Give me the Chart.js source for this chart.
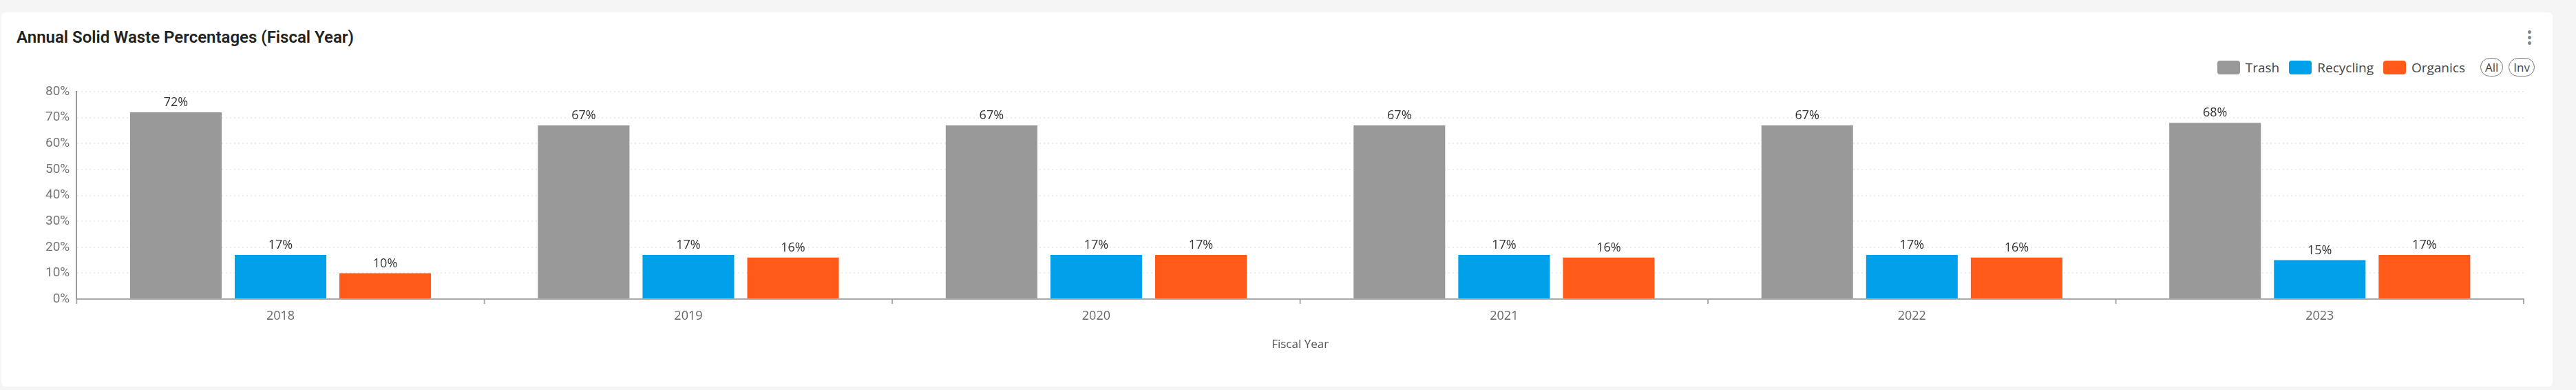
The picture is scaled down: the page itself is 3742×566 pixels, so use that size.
<!DOCTYPE html>
<html><head><meta charset="utf-8">
<script src="https://cdn.jsdelivr.net/npm/chart.js@4"></script>
<style>
html,body{margin:0;padding:0;background:#f5f5f5;width:3742px;height:566px;overflow:hidden;font-family:Roboto,"Noto Sans",sans-serif}
#card{position:absolute;left:2px;top:18px;width:3706px;height:543px;background:#fff;border-radius:6px}
#title{position:absolute;left:24px;top:40px;font:600 24px Roboto,sans-serif;color:#222}
#legend{position:absolute;top:84px;right:60px;display:flex;align-items:center;font:19px "Open Sans",sans-serif;color:#444}
.sw{width:33px;height:20px;border-radius:4px;margin-right:8px}
.it{display:flex;align-items:center;margin-right:14px}
.pill{border:1.5px solid #777;border-radius:14px;padding:1px 6px;font-size:17px;margin-left:8px}
#dots{position:absolute;right:64px;top:44px;width:6px}
#dots div{width:5px;height:5px;border-radius:50%;background:#7f8a96;margin-bottom:3px}
canvas{position:absolute;left:0;top:0}
</style></head><body>
<div id="card"></div>
<div id="title">Annual Solid Waste Percentages (Fiscal Year)</div>
<div id="dots"><div></div><div></div><div></div></div>
<div id="legend">
<div class="it"><div class="sw" style="background:#999"></div>Trash</div>
<div class="it"><div class="sw" style="background:#00a0ea"></div>Recycling</div>
<div class="it"><div class="sw" style="background:#ff5a19"></div>Organics</div>
<span class="pill">All</span><span class="pill">Inv</span>
</div>
<canvas id="c" width="3742" height="566"></canvas>
<script>
const categories=["2018","2019","2020","2021","2022","2023"];
const trash=[72,67,67,67,67,68];
const recycling=[17,17,17,17,17,15];
const organics=[10,16,17,16,16,17];
const yTicks=[0,10,20,30,40,50,60,70,80];
const labelPlugin={id:'lbl',afterDatasetsDraw(ch){const ctx=ch.ctx;ctx.save();ctx.font='18px "Open Sans",sans-serif';ctx.fillStyle='#333';ctx.textAlign='center';ctx.textBaseline='bottom';
ch.data.datasets.forEach((d,i)=>{ch.getDatasetMeta(i).data.forEach((b,j)=>{ctx.fillText(d.data[j]+'%',b.x,b.y-5);});});ctx.restore();}};
new Chart(document.getElementById('c'),{type:'bar',
data:{labels:categories,datasets:[
{label:'Trash',data:trash,backgroundColor:'#999999'},
{label:'Recycling',data:recycling,backgroundColor:'#00a0ea'},
{label:'Organics',data:organics,backgroundColor:'#ff5a19'}]},
options:{responsive:false,animation:false,categoryPercentage:0.77,barPercentage:0.875,
layout:{padding:{left:56,right:76,top:133,bottom:52}},
plugins:{legend:{display:false},tooltip:{enabled:false}},
scales:{
x:{grid:{display:false,drawOnChartArea:false},border:{color:'#aaa',width:2},ticks:{color:'#666',font:{size:18,family:'Open Sans'},padding:6},
 title:{display:true,text:'Fiscal Year',color:'#555',font:{size:17,family:'Open Sans'},padding:{top:14}}},
y:{min:0,max:80,afterBuildTicks(a){a.ticks=yTicks.map(v=>({value:v}));},
 grid:{color:'#e8edf3',lineWidth:2,drawTicks:false},border:{display:true,color:'#999',dash:[2,4],width:2},
 ticks:{color:'#777',font:{size:19,family:'Roboto'},padding:10,callback:v=>v+'%'}}}},
plugins:[labelPlugin,{id:'xt',afterDraw(ch){const x=ch.scales.x,ctx=ch.ctx,b=ch.chartArea.bottom;ctx.save();ctx.strokeStyle='#aaa';ctx.lineWidth=2;
for(let i=0;i<=categories.length;i++){const px=x.left+i*(x.width/categories.length);ctx.beginPath();ctx.moveTo(px,b);ctx.lineTo(px,b+7);ctx.stroke();}ctx.restore();}}]
});
</script></body></html>
